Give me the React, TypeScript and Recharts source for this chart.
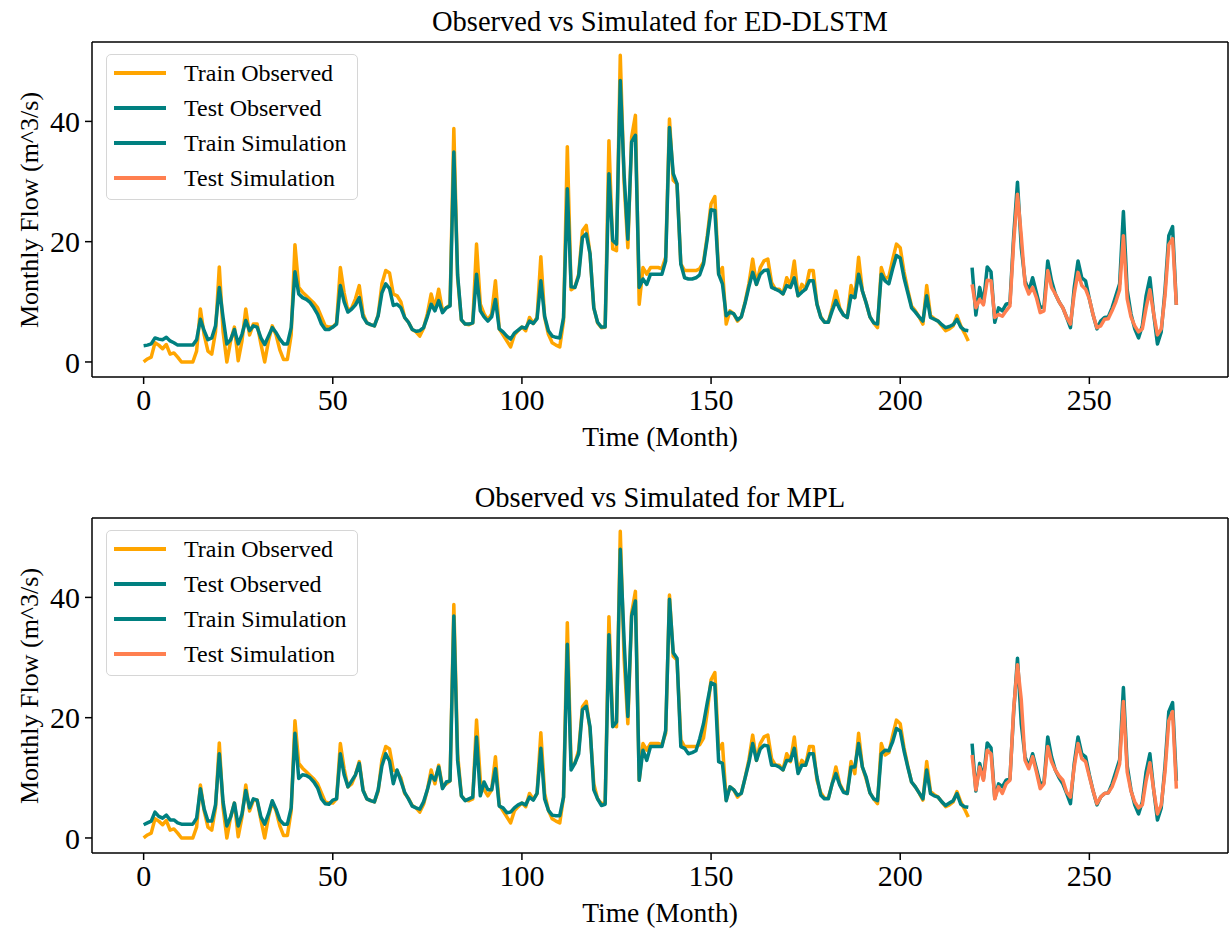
import { LineChart, Line, XAxis, YAxis, ReferenceLine } from 'recharts'

// Monthly flow (m^3/s). Training months 0..218, test months 219..273.
const trainObserved = [
  0, 0.5, 0.8, 3.2, 2.8, 2.2, 2.9, 1.3, 1.5, 0.8,
  0, 0, 0, 0, 1.8, 8.8, 4.5, 1.8, 1.3, 5,
  15.8, 5, 0, 3.5, 5.8, 0.2, 3.5, 8.8, 4.5, 6.3,
  6.3, 3, 0, 3.5, 6, 4.5, 2, 0.4, 0.4, 4.5,
  19.5, 12.4, 11.6, 11, 10.4, 9.8, 9, 7.5, 6, 5.8,
  5.8, 6.5, 15.7, 11.5, 8.5, 9, 10.5, 12.7, 8, 6.5,
  6.2, 6, 7.8, 13, 15.2, 14.8, 11.3, 11, 10, 7.4,
  6.6, 5.4, 5, 4.3, 5.6, 8, 11.3, 9, 12.1, 8.5,
  9, 9.5, 38.8, 14, 7, 6.3, 6.2, 6.5, 19.6, 9.6,
  8, 7, 8, 13.5, 5.5, 4.5, 3.5, 2.5, 4.5, 5.2,
  5.8, 5.2, 7.4, 6.4, 7.4, 17.5, 7.4, 4.6, 3.2, 2.8,
  2.5, 6.8, 35.8, 12, 12.4, 14.6, 21.8, 22.7, 18, 9,
  6.5, 5.7, 5.8, 36.8, 18.8, 18.5, 51, 30, 19, 37.4,
  41, 9.6, 15.7, 14.6, 15.7, 15.7, 15.7, 15.5, 17.4, 40.4,
  30.2, 29.6, 16.3, 15.2, 15.2, 15.2, 15.2, 15.5, 16.6, 21,
  26.3, 27.5, 14.6, 15.7, 6.3, 8.5, 8, 6.8, 7.5, 10,
  13, 17.1, 12.9, 15.7, 16.8, 17.1, 13.2, 12.1, 12.1, 11.3,
  14, 12.7, 16.8, 11, 12.9, 12.1, 15.2, 15.2, 9.6, 7.5,
  6.6, 6.6, 9, 11.8, 9, 7.8, 7.4, 12.7, 10.7, 17.4,
  11.8, 9.8, 7.5, 6.5, 5.7, 15.7, 13.8, 14.2, 17, 19.6,
  19, 15, 12, 9.3, 8.5, 7.5, 6.3, 12.7, 7.7, 7.2,
  6.8, 6, 5.2, 5.5, 6, 7.7, 6, 4.8, 3.5,
]

const testObserved = [
  15.7, 7.8, 12.4, 9.8, 15.8, 15, 6.6, 9, 8.5, 9.6,
  9.8, 21, 29.9, 19, 13.5, 11.8, 14, 11.5, 9, 9.2,
  16.8, 13.5, 11.3, 10, 9, 7.4, 5.7, 12.4, 16.8, 14,
  13.5, 10.5, 7.8, 5.5, 6.8, 7.4, 7.5, 9, 11, 13,
  25, 12, 8, 5.5, 4, 6, 11, 14, 8, 3,
  5, 12, 21, 22.5, 9.5,
]

const edTrainSim = [
  2.7, 2.8, 3.0, 4.0, 3.8, 3.7, 4.1, 3.5, 3.2, 2.8,
  2.8, 2.8, 2.8, 2.8, 3.7, 7.1, 5.2, 3.7, 4.0, 6,
  12.4, 7.4, 3, 3.7, 5.4, 3, 4.6, 6.9, 5.2, 6,
  5.8, 4, 2.9, 4.3, 5.7, 4.9, 3.8, 3, 3, 5.7,
  15, 11.3, 10.7, 10.4, 9.9, 9, 7.9, 6.3, 5.4, 5.4,
  5.8, 6.3, 12.7, 10, 8.3, 8.8, 9.5, 10.7, 7.5, 6.5,
  6.2, 6, 7.7, 11.5, 13, 12.2, 9.4, 9.6, 9, 7.4,
  6.6, 5.4, 5.1, 5.2, 5.7, 7.5, 9.6, 8.5, 10.2, 8.2,
  9, 9.3, 34.9, 14.5, 7, 6.3, 6.3, 6.5, 14.6, 8.5,
  7.5, 6.8, 7.5, 10.4, 5.5, 5, 4.3, 3.8, 4.8, 5.3,
  5.8, 5.6, 6.8, 6.4, 7.2, 13.5, 7.6, 5.2, 4.3, 4.1,
  4.0, 7.4, 28.8, 12.5, 12.4, 14.3, 20.7, 21.3, 18, 9,
  6.6, 5.8, 5.8, 31.3, 20.2, 19.6, 46.8, 31.3, 20.4, 36.6,
  37.7, 12.4, 13.8, 12.9, 14.6, 14.6, 14.6, 14.6, 16.8, 39,
  31.3, 29.6, 16.3, 14, 13.8, 13.8, 14, 14.5, 16.3, 20.5,
  25.3, 25.2, 14.6, 13, 7.7, 8.3, 8, 7, 7.5, 9.8,
  12.5, 14.9, 12.9, 14.6, 15.2, 15.3, 12.4, 12.1, 11.8, 11.3,
  12.7, 12.4, 14, 11, 11.6, 12.1, 13.5, 13.5, 9.6, 7.4,
  6.6, 6.6, 8.5, 10.2, 8.8, 7.8, 7.4, 11, 10.7, 14.6,
  11.8, 9.8, 7.5, 6.5, 6.3, 14.6, 13.5, 13, 15.5, 17.7,
  17.3, 14, 11.5, 9, 8.3, 7.5, 6.8, 11, 7.4, 7.1,
  6.8, 6.2, 5.7, 5.9, 6.2, 7.1, 5.8, 5.3, 5.2,
]

const edTestSim = [
  12.9, 9, 10.4, 9.5, 13.6, 13.5, 7.4, 7.9, 7.6, 8.5,
  9.3, 20, 27.9, 21, 12.9, 11.3, 12.4, 10.7, 8.2, 8.5,
  15.2, 12.4, 11.3, 10, 9, 7.4, 6.3, 11.3, 14.9, 12.7,
  12.1, 10.5, 7.8, 5.7, 6, 7.1, 7.2, 8.5, 10, 12,
  21, 10.5, 7.5, 6, 5, 5.5, 9, 12, 8, 4.5,
  5.5, 11, 19.5, 20.5, 9.5,
]

const mplTrainSim = [
  2.2, 2.5, 2.8, 4.3, 3.6, 3.3, 3.8, 3, 3, 2.5,
  2.3, 2.3, 2.3, 2.3, 3.3, 8.2, 4.8, 2.8, 2.8, 5.5,
  14, 6, 2, 3.5, 5.8, 2, 4, 7.9, 5, 6.5,
  6.3, 3.5, 2.3, 4, 6.2, 4.8, 3, 2.3, 2.3, 5,
  17.4, 9.9, 10.5, 10.4, 10, 9.3, 8.3, 6.5, 5.7, 5.6,
  6.3, 6.5, 14, 10.5, 8.5, 9.5, 10.5, 12.4, 7.9, 6.5,
  6.2, 6, 8, 12, 14, 12.8, 9, 11.3, 9.5, 7.6,
  6.5, 5.3, 5, 4.8, 6, 8, 10.4, 9.6, 11.8, 8.2,
  9.3, 9.5, 36.9, 12.9, 7, 6.2, 6.5, 6.8, 16.8, 7,
  9.3, 8, 8, 11.5, 5.3, 5, 4.2, 4.3, 5, 5.5,
  5.8, 5.5, 6.8, 6.3, 7.4, 14.9, 6.5, 4.6, 3.8, 3.7,
  3.7, 6.8, 32.2, 11.3, 12.4, 14, 21.3, 21.9, 18.5, 8,
  6.5, 5.4, 5.6, 33.8, 18.5, 19.3, 48, 33, 20.2, 36.9,
  39.4, 9.6, 14.6, 12.9, 15.2, 15.2, 15.2, 15.2, 17.9, 39.7,
  30.8, 29.9, 15.2, 14.9, 14, 14.2, 14.5, 16.5, 19, 22.5,
  25.8, 25.5, 12.7, 12.4, 6.2, 8.5, 8, 7.1, 7.4, 10,
  12.5, 15.7, 12.9, 14.8, 15.4, 15.3, 12.1, 12.1, 11.8, 11.3,
  12.9, 12.9, 14.9, 10.7, 12.1, 12.1, 14, 14, 10.1, 7.1,
  6.5, 6.5, 9, 10.7, 8.8, 7.6, 7.4, 11.8, 11.8, 15.7,
  11.8, 10.1, 7.5, 6.5, 6.2, 14, 14.6, 14.5, 16, 18.2,
  17.8, 14.5, 11.8, 9.3, 8.5, 7.5, 6.5, 11.3, 7.4, 7,
  6.8, 6, 5.4, 5.8, 6.2, 7.4, 5.6, 5.2, 5.1,
]

const mplTestSim = [
  13.8, 8, 11.8, 9.6, 14.6, 14, 6.5, 8.5, 7.4, 9,
  9.6, 21.5, 28.8, 23, 12.9, 11.5, 13.5, 11, 8.2, 9,
  15.2, 12.7, 11.3, 10.3, 9.6, 7.6, 6.8, 11.8, 15.7, 13.2,
  12.7, 10.2, 7.8, 5.7, 6.8, 7.4, 7.5, 8.5, 10.2, 12.3,
  22.7, 11, 7.8, 6, 5, 5.5, 9.5, 12.5, 8, 4,
  5.5, 11, 19.5, 21, 8.2,
]

const monthTicks = [0, 50, 100, 150, 200, 250]
const flowTicks = [0, 20, 40]

const SERIES = [
  { key: 'trainObs', name: 'Train Observed', color: '#ffa500' },
  { key: 'testObs', name: 'Test Observed', color: '#008080' },
  { key: 'trainSim', name: 'Train Simulation', color: '#008080' },
  { key: 'testSim', name: 'Test Simulation', color: '#ff7f50' },
]

const FONT = '"Liberation Serif", "Times New Roman", serif'
const WIDTH = 1231
const HEIGHT = 460
const PLOT_LEFT = 92
const PLOT_TOP = 42
const PLOT_W = 1136
const PLOT_H = 335
const X_DOMAIN = [-13.65, 286.65]
const Y_DOMAIN = [-2.5, 53.2]

function buildRows(trainSim: number[], testSim: number[]) {
  const nTrain = trainObserved.length
  const rows = []
  for (let i = 0; i < nTrain + testObserved.length; i++) {
    const train = i < nTrain
    rows.push({
      month: i,
      trainObs: train ? trainObserved[i] : null,
      trainSim: train ? trainSim[i] : null,
      testObs: train ? null : testObserved[i - nTrain],
      testSim: train ? null : testSim[i - nTrain],
    })
  }
  return rows
}

const spine = { stroke: '#000', strokeWidth: 1.5 }
const tickStyle = { fill: '#000', fontSize: 30, fontFamily: FONT }

function LegendBox() {
  return (
    <div style={{
      position: 'absolute', left: 106, top: 54, width: 252, height: 146,
      boxSizing: 'border-box', border: '1px solid #d6d6d6', borderRadius: 5,
      background: 'rgba(255,255,255,0.8)', fontFamily: FONT, fontSize: 24,
    }}>
      {SERIES.map((s, i) => (
        <div key={s.key} style={{ position: 'absolute', left: 0, top: 3 + i * 35, height: 30, width: 250 }}>
          <div style={{ position: 'absolute', left: 7, top: 13, width: 52, height: 3.5, background: s.color }} />
          <div style={{ position: 'absolute', left: 77, top: 0, lineHeight: '30px', whiteSpace: 'nowrap' }}>{s.name}</div>
        </div>
      ))}
    </div>
  )
}

function FlowPanel({ title, trainSim, testSim, top }: { title: string; trainSim: number[]; testSim: number[]; top: number }) {
  const rows = buildRows(trainSim, testSim)
  const centerX = PLOT_LEFT + PLOT_W / 2
  return (
    <div style={{ position: 'absolute', left: 0, top, width: WIDTH, height: HEIGHT, fontFamily: FONT }}>
      <LineChart
        width={WIDTH}
        height={HEIGHT}
        data={rows}
        margin={{ top: PLOT_TOP, right: WIDTH - PLOT_LEFT - PLOT_W, bottom: HEIGHT - PLOT_TOP - PLOT_H - 40, left: 0 }}
      >
        <XAxis
          dataKey="month" type="number" domain={X_DOMAIN} allowDataOverflow ticks={monthTicks}
          height={40} axisLine={spine} tickLine={spine} tickSize={7} tickMargin={5} tick={tickStyle}
        />
        <YAxis
          type="number" domain={Y_DOMAIN} allowDataOverflow ticks={flowTicks} width={PLOT_LEFT}
          axisLine={spine} tickLine={spine} tickSize={7} tickMargin={5} tick={tickStyle}
        />
        {/* top and right frame lines */}
        <ReferenceLine y={Y_DOMAIN[1]} stroke="#000" strokeWidth={1.5} ifOverflow="visible" />
        <ReferenceLine x={X_DOMAIN[1]} stroke="#000" strokeWidth={1.5} ifOverflow="visible" />
        {SERIES.map((s) => (
          <Line
            key={s.key}
            type="linear"
            dataKey={s.key}
            name={s.name}
            stroke={s.color}
            strokeWidth={3.5}
            strokeLinejoin="round"
            dot={false}
            activeDot={false}
            isAnimationActive={false}
          />
        ))}
      </LineChart>
      <div style={{ position: 'absolute', left: centerX, top: 22, transform: 'translate(-50%, -50%)', fontSize: 28.5, whiteSpace: 'nowrap' }}>
        {title}
      </div>
      <div style={{ position: 'absolute', left: centerX, top: 437, transform: 'translate(-50%, -50%)', fontSize: 27.5, whiteSpace: 'nowrap' }}>
        Time (Month)
      </div>
      <div style={{ position: 'absolute', left: 30, top: PLOT_TOP + PLOT_H / 2, transform: 'translate(-50%, -50%) rotate(-90deg)', fontSize: 26, whiteSpace: 'nowrap' }}>
        Monthly Flow (m^3/s)
      </div>
      <LegendBox />
    </div>
  )
}

export default function App() {
  return (
    <div style={{ position: 'absolute', left: 0, top: 0, width: WIDTH, height: 936, background: '#fff' }}>
      <FlowPanel title="Observed vs Simulated for ED-DLSTM" trainSim={edTrainSim} testSim={edTestSim} top={0} />
      <FlowPanel title="Observed vs Simulated for MPL" trainSim={mplTrainSim} testSim={mplTestSim} top={476} />
    </div>
  )
}
